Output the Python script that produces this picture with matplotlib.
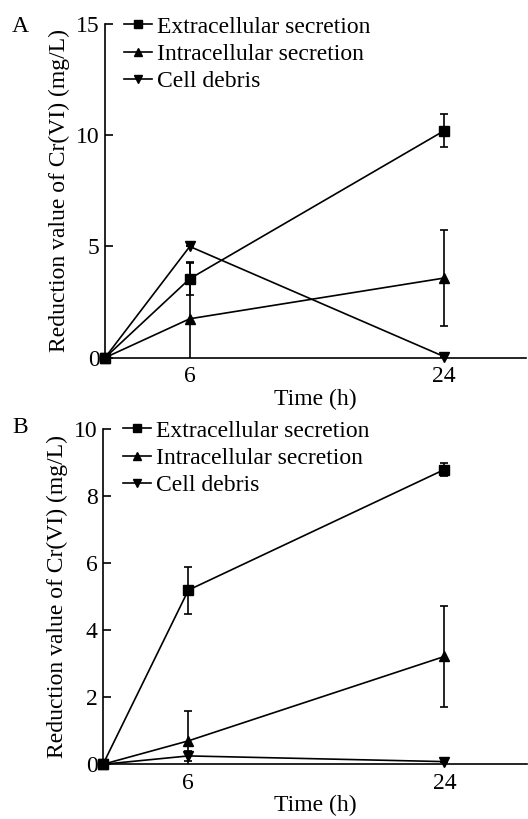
import matplotlib
matplotlib.use("Agg")
import matplotlib.pyplot as plt

plt.rcParams['font.family'] = ['Liberation Serif', 'DejaVu Serif']
plt.rcParams['mathtext.fontset'] = 'stix'

time_h = [0, 6, 24]
series_names = ["Extracellular secretion", "Intracellular secretion", "Cell debris"]
markers = ["s", "^", "v"]

# Panel A
a_extra = [0, 3.55, 10.2]
a_extra_err = [0, 0.75, 0.75]
a_intra = [0, 1.75, 3.58]
a_intra_err = [0, 2.5, 2.15]
a_debris = [0, 5.0, 0.05]
a_debris_err = [0, 0, 0]

# Panel B
b_extra = [0, 5.2, 8.8]
b_extra_err = [0, 0.7, 0.2]
b_intra = [0, 0.7, 3.22]
b_intra_err = [0, 0.88, 1.5]
b_debris = [0, 0.25, 0.08]
b_debris_err = [0, 0.15, 0]

a_yticks = [0, 5, 10, 15]
b_yticks = [0, 2, 4, 6, 8, 10]
x_ticks = [6, 24]

W, H = 528, 819
fig = plt.figure(figsize=(W / 100, H / 100), dpi=100)

FS = 17

def draw(ax_rect, vals, errs, yticks, ylim, legend_anchor, label, label_xy):
    ax = fig.add_axes(ax_rect)
    for v, e, m, name in zip(vals, errs, markers, series_names):
        ax.errorbar(time_h, v, yerr=e, fmt='none', ecolor='black', elinewidth=1.2,
                    capsize=3.2, capthick=1.2)
        ax.plot(time_h, v, color='black', lw=1.2, marker=m, markersize=7.5,
                markerfacecolor='black', markeredgecolor='black', clip_on=False,
                label=name, zorder=3)
    ax.set_xlim(0, 29.8)
    ax.set_ylim(*ylim)
    ax.set_xticks(x_ticks)
    ax.set_yticks(yticks)
    ax.tick_params(axis='x', length=0, labelsize=FS, pad=6)
    ax.tick_params(axis='y', direction='in', length=6, width=1.2, labelsize=FS, pad=4)
    for s in ['top', 'right']:
        ax.spines[s].set_visible(False)
    for s in ['left', 'bottom']:
        ax.spines[s].set_linewidth(1.2)
    ax.set_xlabel("Time (h)", fontsize=FS, labelpad=1)
    ax.set_ylabel("Reduction value of Cr(VI) (mg/L)", fontsize=FS, labelpad=4)
    ax.legend(loc='upper left', bbox_to_anchor=legend_anchor,
              bbox_transform=fig.transFigure, frameon=False, fontsize=FS,
              handlelength=1.2, handletextpad=0.2, labelspacing=0.25,
              borderpad=0, borderaxespad=0, markerscale=0.72)
    fig.text(label_xy[0] / W, 1 - label_xy[1] / H, label, fontsize=FS,
             ha='left', va='center')
    return ax

draw([105 / W, 1 - 357.7 / H, (526 - 105) / W, (357.7 - 24) / H],
     [a_extra, a_intra, a_debris], [a_extra_err, a_intra_err, a_debris_err],
     a_yticks, (0, 15), (124 / W, 1 - 16 / H), "A", (12, 27))

draw([103 / W, 1 - 764.3 / H, (527 - 103) / W, (764.3 - 429.3) / H],
     [b_extra, b_intra, b_debris], [b_extra_err, b_intra_err, b_debris_err],
     b_yticks, (0, 10), (123 / W, 1 - 420 / H), "B", (12, 427))

fig.savefig("out.png", dpi=100)
